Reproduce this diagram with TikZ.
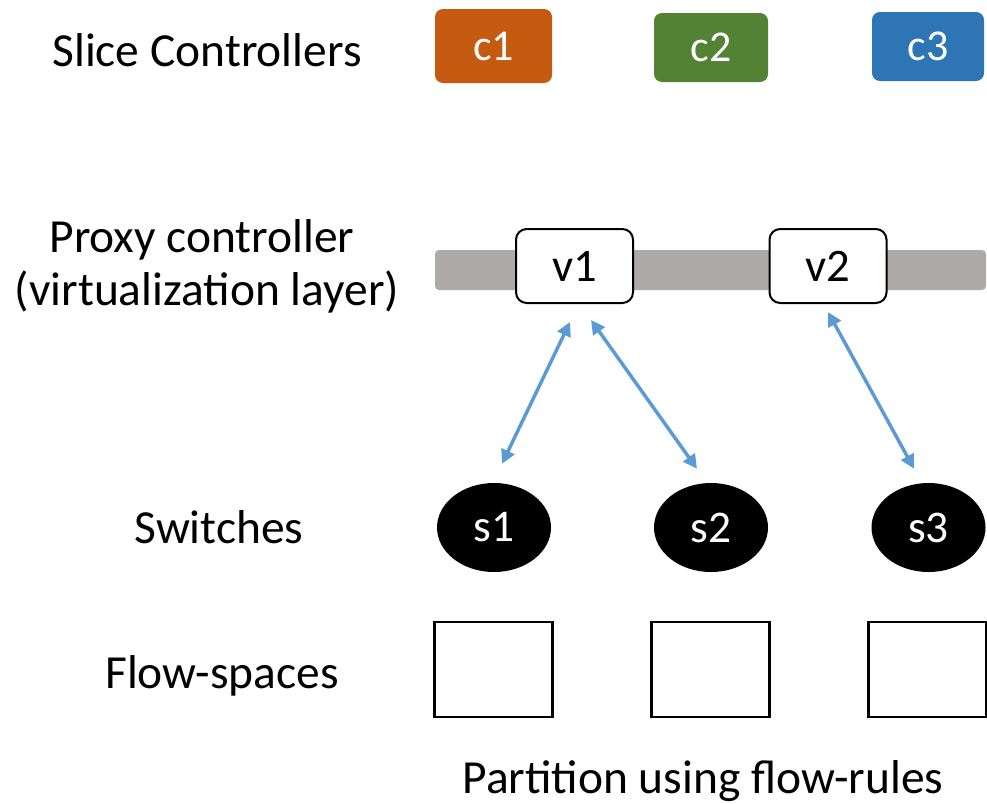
\documentclass[tikz,border=0pt]{standalone}
\usepackage{fontspec}
\setmainfont{Carlito}
\usetikzlibrary{arrows.meta,shapes.geometric}
\definecolor{corange}{HTML}{C55A11}
\definecolor{cgreen}{HTML}{548235}
\definecolor{cblue}{HTML}{2E75B6}
\definecolor{bargray}{HTML}{AEAAAA}
\definecolor{arrblue}{HTML}{5B9BD5}
\tikzset{
  lbl/.style={anchor=base,inner sep=0pt,font=\fontsize{35.6}{42}\selectfont},
  ctrl/.style={rounded corners=6pt,inner sep=0pt,text=white,minimum width=86pt,minimum height=53pt,font=\fontsize{33}{40}\selectfont},
  vbox/.style={draw=black,line width=1.5pt,fill=white,rounded corners=8pt,inner sep=0pt,minimum width=87.75pt,minimum height=55.5pt,font=\fontsize{35}{42}\selectfont},
  sw/.style={ellipse,fill=black,text=white,inner sep=0pt,minimum width=85.5pt,minimum height=66.75pt,font=\fontsize{34}{40}\selectfont},
  fs/.style={draw=black,line width=1.6pt,fill=white,inner sep=0pt,minimum width=88.5pt,minimum height=71.25pt},
  link/.style={draw=arrblue,line width=2.6pt,{Triangle[length=10.5pt,width=10.5pt]}-{Triangle[length=10.5pt,width=10.5pt]}}
}
\begin{document}
\begin{tikzpicture}[x=0.75pt,y=-0.75pt]
\useasboundingbox (0,0) rectangle (987,803);
% left labels
\node[lbl] (lslice) at (207,66) {Slice Controllers};
\node[lbl] (lproxy1) at (202,252) {Proxy controller};
\node[lbl] (lproxy2) at (207,305) {(virtualization layer)};
\node[lbl] (lsw) at (219,543) {Switches};
\node[lbl] (lfs) at (222,688) {Flow-spaces};
\node[lbl] (lpart) at (703,793) {Partition using flow-rules};
% controllers
\node[ctrl,fill=corange,minimum width=87.75pt,minimum height=55.5pt] (c1) at (493.5,46) {c1};
\node[ctrl,fill=cgreen,minimum width=85.5pt,minimum height=51.75pt] (c2) at (711,47.5) {c2};
\node[ctrl,fill=cblue,minimum width=84pt,minimum height=51.75pt] (c3) at (928,46.5) {c3};
% virtualization bar
\node[fill=bargray,rounded corners=3pt,inner sep=0pt,minimum width=413.25pt,minimum height=30pt] (bar) at (710.5,270) {};
\node[vbox] (v1) at (574.5,266) {v1};
\node[vbox] (v2) at (828,266) {v2};
% switches
\node[sw] (s1) at (494,527.5) {s1};
\node[sw] (s2) at (711,527.5) {s2};
\node[sw] (s3) at (928.5,527.5) {s3};
% flow-spaces
\node[fs] (f1) at (493.5,669.5) {};
\node[fs] (f2) at (710.5,669.5) {};
\node[fs] (f3) at (927.5,669.5) {};
% links
\draw[link] ([shift={(-4.5,18)}]v1.south) -- ([shift={(8,-19)}]s1.north);
\draw[link] ([shift={(16.5,16)}]v1.south) -- ([shift={(-14,-14)}]s2.north);
\draw[link] ([shift={(0,8)}]v2.south) -- ([shift={(-14.5,-14)}]s3.north);
\end{tikzpicture}
\end{document}
